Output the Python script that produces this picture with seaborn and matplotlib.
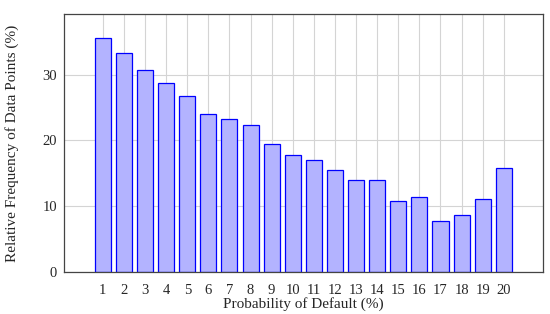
import numpy as np
import pandas as pd
import matplotlib
matplotlib.use("Agg")
import matplotlib.pyplot as plt
import seaborn as sns

prob_default = list(range(1, 21))
rel_freq = [35.6, 33.3, 30.7, 28.8, 26.7, 24.0, 23.3, 22.3, 19.5, 17.7,
            17.0, 15.5, 14.0, 13.9, 10.8, 11.3, 7.7, 8.6, 11.1, 15.8]

df = pd.DataFrame({"prob": prob_default, "freq": rel_freq})

sns.set_style("white")
plt.rcParams['font.family'] = ['Liberation Serif', 'DejaVu Serif']

fig = plt.figure(figsize=(5.5, 3.14), dpi=100)
ax = fig.add_axes([0.116, 0.135, 0.871, 0.819])

sns.barplot(data=df, x="prob", y="freq", ax=ax, color='#b3b3ff',
            saturation=1, width=0.76, edgecolor='blue', linewidth=0.9)

# grid after barplot, seaborn switches off the categorical grid
ax.set_axisbelow(True)
ax.xaxis.grid(True, color='#d4d4d4', linewidth=0.8)
ax.yaxis.grid(True, color='#d4d4d4', linewidth=0.8)

ax.set_xlim(-1.85, 20.85)
ax.set_ylim(0, 39.2)
ax.set_yticks([0, 10, 20, 30])
ax.set_xlabel('Probability of Default (%)', fontsize=11, labelpad=0)
ax.set_ylabel('Relative Frequency of Data Points (%)', fontsize=11, labelpad=17)
ax.tick_params(axis='x', labelsize=10.5, length=0, pad=9)
ax.tick_params(axis='y', labelsize=10.5, length=0, pad=5)
for s in ax.spines.values():
    s.set_color('#444444')
    s.set_linewidth(0.9)

fig.savefig("out.png", dpi=100)
